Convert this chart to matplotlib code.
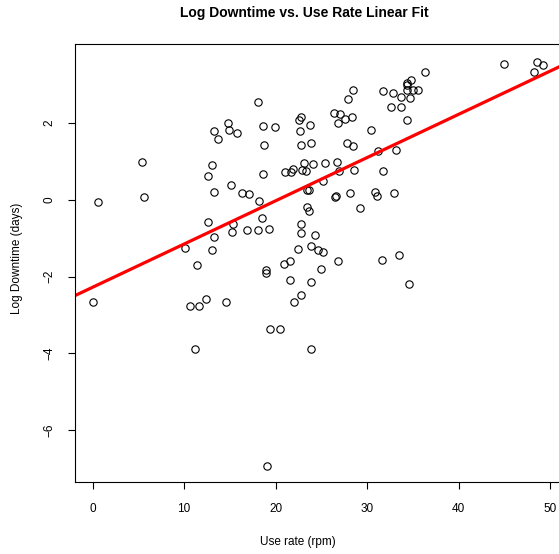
import matplotlib
matplotlib.use("Agg")
import matplotlib.pyplot as plt
import numpy as np

plt.rcParams['font.family'] = ['Liberation Sans', 'DejaVu Sans']

# use rate (rpm) and log downtime (days)
use_rate = [0.6, 5.4, 5.6, 14.8, 13.3, 14.9, 13.7, 13.0, 12.6, 15.1, 13.3,
            18.1, 28.4, 27.9, 31.7, 32.8, 32.55, 22.8, 22.5, 26.4, 27.0,
            28.3, 27.6, 26.8, 23.7, 18.6, 19.9, 15.8, 22.7, 30.4, 18.7,
            22.8, 23.9, 27.8, 28.4, 31.2, 23.05, 24.1, 25.4, 26.7, 18.65,
            21.0, 21.7, 21.9, 22.9, 23.3, 26.9, 28.6, 31.7, 16.35, 17.1,
            18.2, 23.4, 23.6, 25.2, 26.5, 26.6, 28.1, 30.9, 31.05, 32.9,
            44.9, 48.6, 49.2, 48.2, 36.3, 34.8, 34.3, 34.4, 34.3, 35.0,
            35.5, 33.7, 34.7, 33.7, 34.4, 33.1, 12.6, 13.3, 15.2, 15.3,
            10.1, 13.1, 11.4, 0.0, 10.6, 11.6, 12.35, 14.6, 11.15, 18.5,
            16.9, 18.1, 19.3, 23.4, 23.6, 29.2, 22.8, 22.8, 24.3, 22.4,
            23.85, 24.6, 25.2, 20.9, 21.6, 26.8, 31.6, 18.9, 18.9, 24.95,
            21.55, 23.9, 22.8, 22.0, 19.4, 20.5, 23.9, 33.5, 34.6, 19.1]
log_downtime = [-0.05, 0.98, 0.08, 2.0, 1.79, 1.82, 1.6, 0.9, 0.62, 0.39, 0.2,
                2.54, 2.86, 2.63, 2.84, 2.78, 2.43, 2.16, 2.07, 2.27, 2.23,
                2.17, 2.1, 2.0, 1.96, 1.93, 1.89, 1.74, 1.8, 1.83, 1.42,
                1.44, 1.47, 1.47, 1.41, 1.28, 0.96, 0.93, 0.97, 1.0, 0.68,
                0.72, 0.73, 0.8, 0.79, 0.75, 0.75, 0.77, 0.74, 0.19, 0.16,
                -0.04, 0.27, 0.27, 0.49, 0.08, 0.11, 0.19, 0.21, 0.1, 0.19,
                3.54, 3.6, 3.53, 3.34, 3.33, 3.13, 3.05, 3.0, 2.87, 2.87,
                2.87, 2.69, 2.66, 2.43, 2.07, 1.31, -0.58, -0.96, -0.85, -0.63,
                -1.25, -1.31, -1.71, -2.67, -2.77, -2.77, -2.58, -2.67, -3.88, -0.46,
                -0.78, -0.78, -0.76, -0.19, -0.3, -0.22, -0.62, -0.87, -0.92, -1.27,
                -1.2, -1.3, -1.36, -1.67, -1.6, -1.59, -1.57, -1.83, -1.91, -1.79,
                -2.08, -2.13, -2.49, -2.67, -3.37, -3.37, -3.88, -1.45, -2.2, -6.94]

# fitted line
intercept = -2.28
slope = 0.1128

x_ticks = [0, 10, 20, 30, 40, 50]
y_ticks = [-6, -4, -2, 0, 2]

fig = plt.figure(figsize=(5.59, 5.54), dpi=100)
ax = fig.add_axes([0.1333, 0.1305, 0.8675, 0.7901])

ax.plot(use_rate, log_downtime, 'o', markerfacecolor='none',
        markeredgecolor='black', markersize=5.3, markeredgewidth=0.8)
ax.axline((0, intercept), slope=slope, color='red', linewidth=2.3)

ax.set_xlim(-1.97, 51.0)
ax.set_ylim(-7.35, 4.065)
ax.set_xticks(x_ticks)
ax.set_yticks(y_ticks)
ax.set_yticklabels([str(v).replace('-', '\u2212') for v in y_ticks],
                   rotation=90, va='center')
ax.tick_params(direction='out', length=5, width=0.8, labelsize=8.5, pad=10)
ax.tick_params(axis='y', pad=9)

for side in ['left', 'top', 'bottom']:
    ax.spines[side].set_linewidth(0.8)
ax.spines['right'].set_visible(False)

fig.text(304 / 559, 1 - 13 / 554, 'Log Downtime vs. Use Rate Linear Fit',
         ha='center', va='center', fontsize=10, fontweight='bold')
fig.text(297.5 / 559, 1 - 542 / 554, 'Use rate (rpm)',
         ha='center', va='center', fontsize=8.5)
fig.text(17 / 559, 1 - 258 / 554, 'Log Downtime (days)',
         ha='center', va='center', rotation=90, fontsize=8.5)

fig.savefig('out.png', dpi=100)
